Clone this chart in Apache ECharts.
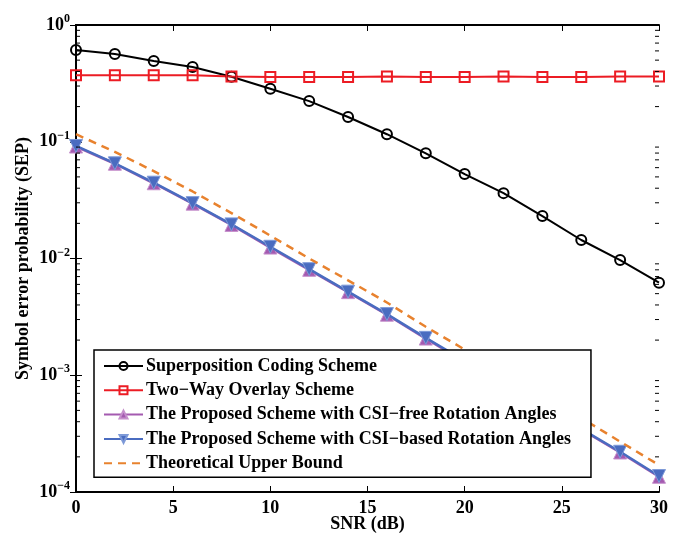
<!DOCTYPE html>
<html><head><meta charset="utf-8">
<script src="https://cdn.jsdelivr.net/npm/echarts@6/dist/echarts.min.js"></script>
<style>html,body{margin:0;padding:0;background:#fff}#c{width:679px;height:536px}</style>
</head><body><div id="c"></div>
<script>
const snr = [0,2,4,6,8,10,12,14,16,18,20,22,24,26,28,30];
const superposition = [0.61,0.564,0.492,0.436,0.36,0.284,0.223,0.163,0.116,0.0796,0.0529,0.0363,0.0231,0.0144,0.0097,0.0062];
const twoWay = [0.372,0.371,0.371,0.371,0.362,0.358,0.359,0.358,0.362,0.358,0.358,0.362,0.358,0.358,0.362,0.362];
const csiFree = [0.091,0.0648,0.0441,0.0295,0.0194,0.0124,0.0080,0.00515,0.00330,0.00206,0.00131,0.00084,0.000537,0.000343,0.000218,0.000135];
const csiBased = [0.092,0.0653,0.0446,0.0298,0.0196,0.0126,0.0081,0.0052,0.00334,0.00209,0.00133,0.000851,0.000543,0.000347,0.000221,0.000137];
const upperBound = [0.116,0.082,0.056,0.0375,0.0245,0.0157,0.0100,0.0065,0.0042,0.0026,0.00166,0.00106,0.00068,0.00043,0.00027,0.00017];
const names = ['Superposition Coding Scheme','Two\u2212Way Overlay Scheme','The Proposed Scheme with CSI\u2212free Rotation Angles','The Proposed Scheme with CSI\u2212based Rotation Angles','Theoretical Upper Bound'];
const xTicks = [0,5,10,15,20,25,30];
const minorTickValues = [];
[1e-4,1e-3,1e-2,1e-1].forEach(d=>{for(let k=2;k<=9;k++) minorTickValues.push(+(d*k).toPrecision(3));});

const FONT = '"Liberation Serif","Times New Roman",serif';
const pair = arr => snr.map((x,i)=>[x,arr[i]]);
const chart = echarts.init(document.getElementById('c'));
const axisLineStyle = {color:'#000', width:2};
const yLabel = v => { const e = Math.round(Math.log10(v)); return '{b|10}{s|' + (e<0?'\u2212'+(-e):e) + '}'; };
chart.setOption({
  animation:false,
  backgroundColor:'#fff',
  grid:{left:76,right:20,top:25,bottom:44,containLabel:false,outerBoundsMode:'none'},
  xAxis:[{type:'value',min:0,max:30,interval:5,position:'bottom',
    axisLine:{show:true,lineStyle:axisLineStyle},
    axisTick:{show:true,inside:true,length:6,lineStyle:{color:'#000',width:1}},
    axisLabel:{fontFamily:FONT,fontWeight:'bold',fontSize:18,color:'#000',margin:7},
    splitLine:{show:false},
    name:'SNR (dB)',nameLocation:'middle',nameGap:23,nameMoveOverlap:false,
    nameTextStyle:{fontFamily:FONT,fontWeight:'bold',fontSize:18,color:'#000'}},
   {type:'value',min:0,max:30,interval:5,position:'top',
    axisLine:{show:true,lineStyle:axisLineStyle},
    axisTick:{show:true,inside:true,length:6,lineStyle:{color:'#000',width:1}},
    axisLabel:{show:false},splitLine:{show:false}}],
  yAxis:[{type:'log',logBase:10,min:1e-4,max:1,position:'left',
    axisLine:{show:true,lineStyle:axisLineStyle},
    axisTick:{show:true,inside:true,length:6,lineStyle:{color:'#000',width:1}},
    axisLabel:{formatter:yLabel,margin:6,color:'#000',
      rich:{b:{fontFamily:FONT,fontWeight:'bold',fontSize:18,color:'#000'},
            s:{fontFamily:FONT,fontWeight:'bold',fontSize:12,color:'#000',padding:[0,0,12,0]}}},
    splitLine:{show:false},
    name:'Symbol error probability (SEP)',nameLocation:'middle',nameGap:44,nameMoveOverlap:false,
    nameTextStyle:{fontFamily:FONT,fontWeight:'bold',fontSize:18,color:'#000'}},
   {type:'log',logBase:10,min:1e-4,max:1,position:'right',
    axisLine:{show:true,lineStyle:axisLineStyle},
    axisTick:{show:true,inside:true,length:6,lineStyle:{color:'#000',width:1}},
    axisLabel:{show:false},splitLine:{show:false}}],
  legend:{
    data:[names[0],names[1],names[2],names[3],{name:names[4],itemStyle:{opacity:0}}],
    orient:'vertical', left:94, top:350, z:20, zlevel:1,
    backgroundColor:'#fff', borderColor:'#000', borderWidth:1.5,
    padding:[7,20,5,9], itemGap:6.3, itemWidth:39, itemHeight:10,
    textStyle:{fontFamily:FONT,fontWeight:'bold',fontSize:18,color:'#000',lineHeight:18,padding:[0,0,0,-2]}
  },
  series:[
    {name:names[0],type:'line',data:pair(superposition),symbol:'circle',symbolSize:10,
     lineStyle:{color:'#000',width:2},itemStyle:{color:'rgba(255,255,255,0)',borderColor:'#000',borderWidth:2},z:3},
    {name:names[1],type:'line',data:pair(twoWay),symbol:'rect',symbolSize:10,
     lineStyle:{color:'#ec1c24',width:2},itemStyle:{color:'rgba(255,255,255,0)',borderColor:'#ec1c24',borderWidth:2},z:3},
    {name:names[2],type:'line',data:pair(csiFree),symbol:'triangle',symbolSize:13,
     lineStyle:{color:'#a45ab0',width:2.5},itemStyle:{color:'#a45ab0',borderColor:'#c690cc',borderWidth:1},z:3},
    {name:names[3],type:'line',data:pair(csiBased),symbol:'triangle',symbolRotate:180,symbolSize:13,
     lineStyle:{color:'#4a6cc0',width:2.5},itemStyle:{color:'#4a6cc0',borderColor:'#7e9ad8',borderWidth:1},z:4},
    {name:names[4],type:'line',data:pair(upperBound),symbol:'none',smooth:false,
     lineStyle:{color:'#e8822e',width:2.5,type:[8,6]},itemStyle:{color:'#e8822e'},z:5},
    {type:'custom',silent:true,z:6,data:minorTickValues.map(v=>[0,v]),
     renderItem:function(params,api){
       const cs=params.coordSys; const y=api.coord([0,api.value(1)])[1];
       return {type:'group',children:[
         {type:'line',shape:{x1:cs.x,y1:y,x2:cs.x+4,y2:y},style:{stroke:'#000',lineWidth:1}},
         {type:'line',shape:{x1:cs.x+cs.width-4,y1:y,x2:cs.x+cs.width,y2:y},style:{stroke:'#000',lineWidth:1}}
       ]};
     }}
  ]
});
</script></body></html>
